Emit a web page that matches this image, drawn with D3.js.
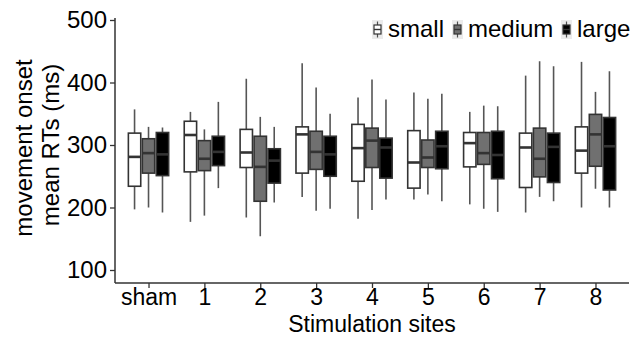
<!DOCTYPE html>
<html>
<head>
<meta charset="utf-8">
<script src="https://cdn.jsdelivr.net/npm/d3@7"></script>
<style>
  body { margin: 0; background: #fff; }
  svg { font-family: "Liberation Sans", Arial, sans-serif; }
</style>
</head>
<body>
<svg width="633" height="337"></svg>
<script>
const sites = ["sham", "1", "2", "3", "4", "5", "6", "7", "8"];
const sizes = ["small", "medium", "large"];
const fills = ["#ffffff", "#707070", "#000000"];

// [min, q1, median, q3, max] per site
const smallStats = [
  [197, 234, 281, 319, 357],
  [177, 257, 316, 338, 353],
  [184, 264, 288, 325, 406],
  [217, 255, 317, 329, 431],
  [182, 242, 295, 333, 376],
  [213, 231, 272, 323, 384],
  [205, 265, 303, 320, 353],
  [192, 232, 296, 319, 411],
  [200, 255, 291, 329, 433]
];
const mediumStats = [
  [200, 255, 287, 310, 329],
  [187, 259, 278, 307, 325],
  [154, 210, 265, 314, 345],
  [195, 261, 289, 322, 392],
  [196, 264, 307, 327, 405],
  [221, 264, 280, 308, 374],
  [198, 269, 287, 320, 363],
  [217, 249, 278, 327, 434],
  [230, 266, 317, 349, 385]
];
const largeStats = [
  [192, 251, 285, 320, 328],
  [231, 267, 289, 314, 369],
  [208, 239, 275, 294, 329],
  [198, 250, 285, 314, 350],
  [213, 247, 296, 311, 373],
  [210, 262, 298, 322, 382],
  [193, 246, 284, 322, 362],
  [210, 240, 297, 319, 426],
  [200, 228, 298, 344, 418]
];
const yTicks = [100, 200, 300, 400, 500];

const svg = d3.select("svg");
const lineCol = "#333333";

const x = d3.scalePoint().domain(sites).range([115, 629]).padding(0.6);
const y = d3.scaleLinear().domain([79.2, 503.2]).range([283, 18]);
const step = x.step();
const boxW = step * 0.75 / 3;

const stats = [smallStats, mediumStats, largeStats];
const boxes = [];
sizes.forEach((s, k) => {
  stats[k].forEach((d, i) => {
    boxes.push({ site: sites[i], k: k, min: d[0], q1: d[1], med: d[2], q3: d[3], max: d[4] });
  });
});

const cx = d => x(d.site) + (d.k - 1) * step * 0.25;

const g = svg.append("g");
const bg = g.selectAll("g.box").data(boxes).enter().append("g").attr("class", "box");

bg.append("line")
  .attr("x1", cx).attr("x2", cx)
  .attr("y1", d => y(d.max)).attr("y2", d => y(d.min))
  .attr("stroke", "#555555").attr("stroke-width", 1.6);

bg.append("rect")
  .attr("x", d => cx(d) - boxW / 2 + 0.8)
  .attr("width", boxW - 1.6)
  .attr("y", d => y(d.q3))
  .attr("height", d => y(d.q1) - y(d.q3))
  .attr("fill", d => fills[d.k])
  .attr("stroke", lineCol).attr("stroke-width", 1.6);

bg.append("line")
  .attr("x1", d => cx(d) - boxW / 2 + 0.8).attr("x2", d => cx(d) + boxW / 2 - 0.8)
  .attr("y1", d => y(d.med)).attr("y2", d => y(d.med))
  .attr("stroke", lineCol).attr("stroke-width", 2.6);

// axes
const yAxis = svg.append("g")
  .attr("transform", "translate(115,0)")
  .call(d3.axisLeft(y).tickValues(yTicks).tickSize(5).tickPadding(3));
const xAxis = svg.append("g")
  .attr("transform", "translate(0,283)")
  .call(d3.axisBottom(x).tickSize(5).tickPadding(1));

[yAxis, xAxis].forEach(a => {
  a.select(".domain").attr("stroke", lineCol).attr("stroke-width", 1.5);
  a.selectAll(".tick line").attr("stroke", lineCol).attr("stroke-width", 1.3);
  a.selectAll(".tick text").attr("fill", "#000").style("font-size", "24px")
    .style("font-family", "'Liberation Sans', Arial, sans-serif");
});
xAxis.selectAll(".tick text").style("font-size", "23px");
xAxis.select(".domain").attr("d", "M115,0H629");
yAxis.select(".domain").attr("d", "M0,283V18");

svg.append("text")
  .attr("x", 372).attr("y", 332)
  .attr("text-anchor", "middle")
  .style("font-size", "23px")
  .text("Stimulation sites");

svg.append("text")
  .attr("transform", "translate(32,148) rotate(-90)")
  .attr("text-anchor", "middle")
  .style("font-size", "24px")
  .text("movement onset");
svg.append("text")
  .attr("transform", "translate(59,145) rotate(-90)")
  .attr("text-anchor", "middle")
  .style("font-size", "24px")
  .text("mean RTs (ms)");

// legend
const legendX = [372, 452, 561];
const lg = svg.selectAll("g.legend").data(sizes).enter().append("g")
  .attr("class", "legend")
  .attr("transform", (d, i) => "translate(" + legendX[i] + ",20)");
lg.append("rect").attr("width", 11).attr("height", 19).attr("fill", "#ebebeb");
lg.append("line").attr("x1", 5.5).attr("x2", 5.5).attr("y1", 1.5).attr("y2", 17.5)
  .attr("stroke", "#4d4d4d").attr("stroke-width", 1.2);
lg.append("rect").attr("x", 2).attr("y", 5).attr("width", 7).attr("height", 9)
  .attr("fill", (d, i) => fills[i]).attr("stroke", lineCol).attr("stroke-width", 1.2);
lg.append("line").attr("x1", 2).attr("x2", 9).attr("y1", 9.5).attr("y2", 9.5)
  .attr("stroke", lineCol).attr("stroke-width", 1.4);
lg.append("text").attr("x", 16).attr("y", 17)
  .style("font-size", "24px")
  .text(d => d);
</script>
</body>
</html>
